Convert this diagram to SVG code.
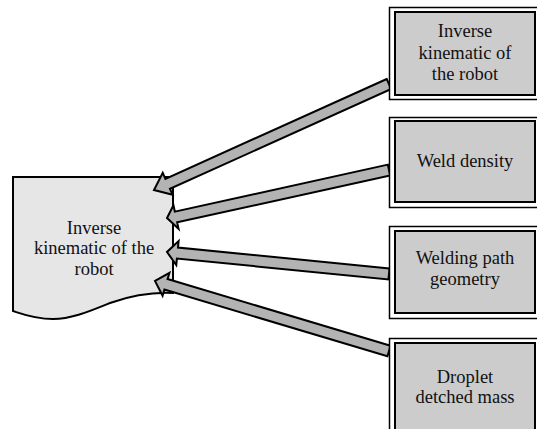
<svg xmlns="http://www.w3.org/2000/svg" width="537" height="429" viewBox="0 0 537 429">
<style>
text{font-family:"Liberation Serif","Times New Roman",Tinos,"DejaVu Serif",serif;font-size:18.5px;fill:#111;text-anchor:middle}
.outer{fill:#fff;stroke:#000;stroke-width:1.5}
.inner{fill:#cccccc;stroke:#000;stroke-width:2}
.arr{fill:#b3b3b3;stroke:#000;stroke-width:2;stroke-linejoin:miter}
.doc{fill:#e6e6e6;stroke:#000;stroke-width:2}
</style>
<rect width="537" height="429" fill="#fff"/>
<g id="doc" font-family="Liberation Serif, serif">
<path class="doc" d="M13,177 L173,177 L173,293 C150,292 130,296 110,303 C90,311 72,319 53,319 C35,319 22,314 13,311 Z"/>
<text x="94" y="234">Inverse</text>
<text x="94" y="254">kinematic of the</text>
<text x="94" y="275">robot</text>
</g>
<g id="connectors">
<polygon class="arr" points="386.74,78.99 165.41,178.82 162.74,172.89 154,190 172.60,194.77 169.93,188.84 391.26,89.01"/>
<polygon class="arr" points="387.84,164.62 174.84,211.62 173.46,205.27 167,218 178.54,228.73 177.16,222.38 390.16,175.38"/>
<polygon class="arr" points="389.54,268.53 177.99,247.57 178.63,241.10 167,252 176.27,264.98 176.91,258.51 388.46,279.47"/>
<polygon class="arr" points="390.58,345.73 167.60,279.03 169.46,272.80 155,281 162.58,295.80 164.44,289.57 387.42,356.27"/>
</g>
<g id="box1">
<rect class="outer" x="389.5" y="7.5" width="152" height="92"/>
<rect class="inner" x="395" y="12" width="140" height="83"/>
<text x="465" y="37">Inverse</text>
<text x="465" y="59">kinematic of</text>
<text x="465" y="80">the robot</text>
</g>
<g id="box2">
<rect class="outer" x="389.5" y="117.5" width="152" height="90"/>
<rect class="inner" x="395" y="121" width="140" height="81"/>
<text x="465" y="167">Weld density</text>
</g>
<g id="box3">
<rect class="outer" x="389.5" y="226.5" width="152" height="92"/>
<rect class="inner" x="395" y="231" width="140" height="82"/>
<text x="465" y="264">Welding path</text>
<text x="465" y="285">geometry</text>
</g>
<g id="box4">
<rect class="outer" x="389.5" y="338.5" width="152" height="95"/>
<rect class="inner" x="395" y="343" width="140" height="90"/>
<text x="465" y="383">Droplet</text>
<text x="465" y="403">detched mass</text>
</g>
</svg>
